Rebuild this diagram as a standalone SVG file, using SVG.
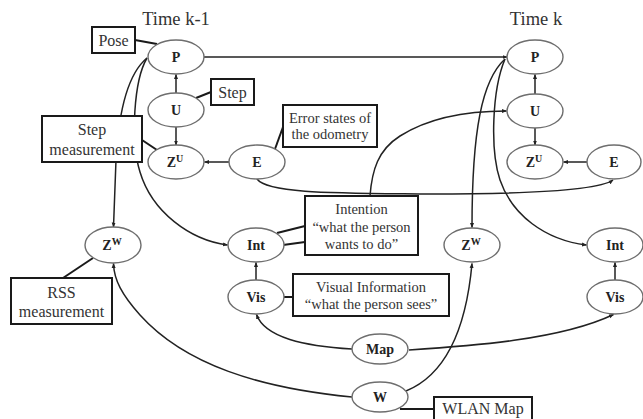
<svg xmlns="http://www.w3.org/2000/svg" width="643" height="419" viewBox="0 0 643 419">
  <style>
    .node ellipse { fill: #fff; stroke: #6e6e6e; stroke-width: 1.4; }
    .node text { font-family: "Liberation Serif", "Times New Roman", serif; font-weight: bold; font-size: 14px; text-anchor: middle; fill: #222; }
    .note rect { fill: #fff; stroke: #1a1a1a; stroke-width: 2; }
    .note text { font-family: "Liberation Serif", "Times New Roman", serif; font-size: 16px; text-anchor: middle; fill: #333; }
    .note.small text { font-size: 14.5px; }
    .title { font-family: "Liberation Serif", "Times New Roman", serif; font-size: 18.5px; text-anchor: middle; fill: #333; }
    .edge { fill: none; stroke: #222; stroke-width: 1.5; }
    .arr { marker-end: url(#head); }
    .link { fill: none; stroke: #1a1a1a; stroke-width: 2; }
  </style>
  <defs>
    <marker id="head" viewBox="0 0 10 10" refX="9" refY="5" markerWidth="5" markerHeight="5" orient="auto" markerUnits="userSpaceOnUse">
      <path d="M0,1 L10,5 L0,9 z" fill="#222"/>
    </marker>
  </defs>

  <rect width="643" height="419" fill="#fff"/>

  <text class="title" x="176" y="25">Time k-1</text>
  <text class="title" x="536" y="25">Time k</text>

  <!-- connectors -->
  <g id="connectors">
    <!-- within slice k-1 -->
    <line class="edge arr" x1="176" y1="93" x2="176" y2="74.5"/>
    <line class="edge arr" x1="176" y1="127" x2="176" y2="145"/>
    <line class="edge arr" x1="229" y1="162" x2="204.5" y2="162"/>
    <line class="edge arr" x1="256" y1="280" x2="256" y2="262.5"/>
    <!-- within slice k -->
    <line class="edge arr" x1="535" y1="94" x2="535" y2="74.5"/>
    <line class="edge arr" x1="535" y1="128" x2="535" y2="145"/>
    <line class="edge arr" x1="587" y1="162" x2="563.5" y2="162"/>
    <line class="edge arr" x1="615" y1="280" x2="615" y2="262.5"/>
    <!-- pose to pose -->
    <line class="edge arr" x1="204" y1="57" x2="507" y2="57"/>
    <!-- P(k-1) to Zw(k-1) and Int(k-1) -->
    <path class="edge arr" d="M147,58 C130,72 119,105 116,160 L113.5,227"/>
    <path class="edge arr" d="M147,58 C134,80 130,140 140,172 C152,212 190,240 227.5,245"/>
    <!-- P(k) to Zw(k) and Int(k) -->
    <path class="edge arr" d="M505,59 C482,80 472,130 472,227.5"/>
    <path class="edge arr" d="M505,59 C492,90 490,150 500,180 C512,215 545,240 586.5,245"/>
    <!-- intention to U(k) -->
    <path class="edge arr" d="M370,196 C372,170 378,150 400,136 C430,117 470,111 506.5,111"/>
    <!-- E(k-1) to E(k) -->
    <path class="edge arr" d="M257,179 C268,194 340,193 430,194 C520,194 598,191 613,180"/>
    <!-- map to visual -->
    <path class="edge arr" d="M352,349 C305,346 265,338 256.5,314.5"/>
    <path class="edge arr" d="M409,350 C470,346 560,340 613.5,314.5"/>
    <!-- wlan map to measurements -->
    <path class="edge arr" d="M352,397 C260,388 185,365 140,315 C122,295 114,280 113.5,263.5"/>
    <path class="edge arr" d="M406,391 C445,375 466,330 472,263.5"/>
    <!-- note leaders -->
    <line class="link" x1="135" y1="40" x2="157" y2="44"/>
    <line class="link" x1="196" y1="98" x2="211" y2="92"/>
    <line class="link" x1="142" y1="140" x2="157" y2="150"/>
    <line class="link" x1="275" y1="149" x2="283" y2="127"/>
    <line class="link" x1="93" y1="258" x2="63" y2="278"/>
    <line class="link" x1="277" y1="233" x2="305" y2="226"/>
    <line class="link" x1="283" y1="245" x2="305" y2="242"/>
    <line class="link" x1="284" y1="297" x2="293" y2="297"/>
    <line class="link" x1="400" y1="409" x2="434" y2="409"/>
  </g>

  <!-- slice k-1 -->
  <g id="P1" class="node"><ellipse cx="176" cy="57" rx="28" ry="17"/><text x="176" y="62">P</text></g>
  <g id="U1" class="node"><ellipse cx="176" cy="110" rx="28" ry="17"/><text x="176" y="115">U</text></g>
  <g id="ZU1" class="node"><ellipse cx="176" cy="162" rx="28" ry="17"/><text x="175" y="167">Z<tspan font-size="10" dy="-5">U</tspan></text></g>
  <g id="E1" class="node"><ellipse cx="257" cy="162" rx="28" ry="17"/><text x="257" y="167">E</text></g>
  <g id="ZW1" class="node"><ellipse cx="113" cy="245" rx="28" ry="18"/><text x="112" y="250">Z<tspan font-size="10" dy="-5">W</tspan></text></g>
  <g id="Int1" class="node"><ellipse cx="256" cy="245" rx="28" ry="17"/><text x="256" y="250">Int</text></g>
  <g id="Vis1" class="node"><ellipse cx="256" cy="297" rx="28" ry="17"/><text x="256" y="302">Vis</text></g>

  <!-- slice k -->
  <g id="P2" class="node"><ellipse cx="535" cy="57" rx="28" ry="17"/><text x="535" y="62">P</text></g>
  <g id="U2" class="node"><ellipse cx="535" cy="111" rx="28" ry="17"/><text x="535" y="116">U</text></g>
  <g id="ZU2" class="node"><ellipse cx="535" cy="162" rx="28" ry="17"/><text x="534" y="167">Z<tspan font-size="10" dy="-5">U</tspan></text></g>
  <g id="E2" class="node"><ellipse cx="614" cy="162" rx="27" ry="17"/><text x="614" y="167">E</text></g>
  <g id="ZW2" class="node"><ellipse cx="472" cy="245" rx="28" ry="17"/><text x="471" y="250">Z<tspan font-size="10" dy="-5">W</tspan></text></g>
  <g id="Int2" class="node"><ellipse cx="615" cy="245" rx="28" ry="17"/><text x="615" y="250">Int</text></g>
  <g id="Vis2" class="node"><ellipse cx="615" cy="297" rx="28" ry="17"/><text x="615" y="302">Vis</text></g>

  <!-- static nodes -->
  <g id="Map" class="node"><ellipse cx="380" cy="349" rx="28" ry="15"/><text x="380" y="354">Map</text></g>
  <g id="W" class="node"><ellipse cx="380" cy="397" rx="28" ry="15"/><text x="380" y="402">W</text></g>

  <!-- notes -->
  <g id="note-pose" class="note"><rect x="92" y="27" width="43" height="26"/><text x="113.5" y="45.5">Pose</text></g>
  <g id="note-step" class="note"><rect x="211" y="79" width="43" height="26"/><text x="232.5" y="97.5">Step</text></g>
  <g id="note-stepmeas" class="note"><rect x="42" y="116" width="100" height="46"/><text x="92" y="135">Step</text><text x="92" y="155">measurement</text></g>
  <g id="note-error" class="note small"><rect x="283" y="105" width="94" height="42"/><text x="330" y="123">Error states of</text><text x="330" y="139">the odometry</text></g>
  <g id="note-rss" class="note"><rect x="11" y="278" width="101" height="46"/><text x="61.5" y="298">RSS</text><text x="61.5" y="317">measurement</text></g>
  <g id="note-intention" class="note small"><rect x="305" y="196" width="113" height="59"/><text x="361.5" y="214">Intention</text><text x="361.5" y="232">“what the person</text><text x="361.5" y="249">wants to do”</text></g>
  <g id="note-visual" class="note small"><rect x="293" y="274" width="156" height="42"/><text x="371" y="292">Visual Information</text><text x="371" y="309">“what the person sees”</text></g>
  <g id="note-wlan" class="note"><rect x="434" y="397" width="98" height="24"/><text x="483" y="414">WLAN Map</text></g>
</svg>
